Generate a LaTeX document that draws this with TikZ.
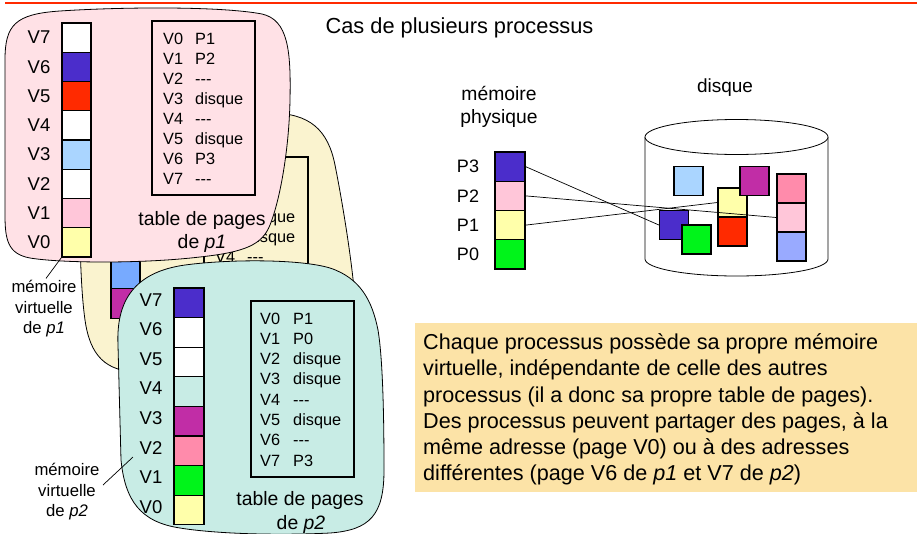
\documentclass[tikz,border=0pt]{standalone}
\usepackage{fontspec}
\setmainfont{Liberation Sans}
\definecolor{pinkbg}{HTML}{FFE1E6}
\definecolor{yellbg}{HTML}{FAF3CF}
\definecolor{tealbg}{HTML}{C8ECE5}
\definecolor{dblue}{HTML}{4B2DCB}
\definecolor{vred}{HTML}{FF2A00}
\definecolor{lblue}{HTML}{AAD5FF}
\definecolor{lpink}{HTML}{FFC6D9}
\definecolor{lyell}{HTML}{FFFFAA}
\definecolor{magen}{HTML}{C12DA6}
\definecolor{dpink}{HTML}{FF8BAB}
\definecolor{vgreen}{HTML}{00F41A}
\definecolor{peri}{HTML}{99AAFF}
\definecolor{mblue}{HTML}{77AAFF}
\definecolor{notebg}{HTML}{FCE3A7}
\definecolor{topred}{HTML}{FF2A00}
\newcommand\tdash{-{}-{}-}
\tikzset{
  blob/.style={draw=black, line width=0.8pt},
  cell/.style={draw, line width=1.2pt, minimum width=29pt, minimum height=29.25pt, inner sep=0pt},
  sq/.style={draw, line width=1.2pt, minimum width=29pt, minimum height=29pt, inner sep=0pt},
  tbox/.style={draw, line width=1.2pt, inner sep=0pt},
  vlab/.style={font=\fontsize{18.5}{21}\selectfont, inner sep=0pt},
  tt/.style={font=\fontsize{16.3}{19}\selectfont, anchor=base west, inner sep=0pt},
  capt/.style={font=\fontsize{19.4}{23}\selectfont, inner sep=0pt},
  small/.style={font=\fontsize{16.7}{20.5}\selectfont, align=center, inner sep=1pt},
  notet/.style={font=\fontsize{21.6}{26}\selectfont, anchor=base west, inner sep=0pt},
  conn/.style={draw, line width=0.7pt},
}
\begin{document}
\begin{tikzpicture}[x=1pt,y=-1pt]
\useasboundingbox (0,0) rectangle (917,533);
% top rule
\draw[topred, line width=2.5pt] (5,3) -- (917,3);
\node[font=\fontsize{21.8}{26}\selectfont, inner sep=0pt] (title) at (459.5,28) {Cas de plusieurs processus};

% ---------- yellow (hidden) process ----------
\path[blob, fill=yellbg] (80,160) .. controls (80,125) and (100,114) .. (150,113) -- (270,113)
  .. controls (310,113) and (328,130) .. (335,165)
  .. controls (342,200) and (352,260) .. (355,300)
  .. controls (358,350) and (340,372) .. (300,372) -- (140,372)
  .. controls (105,372) and (90,355) .. (85,320)
  .. controls (80,285) and (79,220) .. (80,160) -- cycle;
\node[tbox, minimum width=104pt, minimum height=183pt] (ctab) at (256,248.5) {};
\foreach \i/\t in {2/disque,3/disque,4/\tdash}{
  \node[tt] (ct\i x) at (215,{182+20.1*\i}) {V\i};
  \node[tt] (ct\i y) at (247,{182+20.1*\i}) {\t};
}
\node[cell, fill=mblue, minimum width=29pt] (cc1) at (125.5,274.5) {};
\node[cell, fill=magen, minimum width=29pt] (cc0) at (125.5,303.5) {};

% ---------- process p1 (pink) ----------
\path[blob, fill=pinkbg] (5,60) .. controls (5,25) and (15,14) .. (60,11)
  .. controls (120,7) and (220,6) .. (262,14)
  .. controls (288,20) and (291,50) .. (290,100)
  .. controls (289,150) and (280,200) .. (270,225)
  .. controls (262,245) and (245,252) .. (200,257)
  .. controls (140,264) and (60,263) .. (30,258)
  .. controls (8,254) and (5,240) .. (5,215) -- cycle;
\foreach \i/\c in {7/white,6/dblue,5/vred,4/white,3/lblue,2/white,1/lpink,0/lyell}{
  \pgfmathsetmacro\yy{23+(7-\i)*29.25+14.625}
  \node[cell, fill=\c] (ac\i) at (76.5,\yy) {};
  \node[vlab] (al\i) at (39,\yy) {V\i};
}
\node[tbox, minimum width=103pt, minimum height=174pt] (atab) at (203.5,108) {};
\foreach \i/\t in {0/P1,1/P2,2/\tdash,3/disque,4/\tdash,5/disque,6/P3,7/\tdash}{
  \node[tt] (at\i x) at (163,{44+20.1*\i}) {V\i};
  \node[tt] (at\i y) at (195,{44+20.1*\i}) {\t};
}
\node[capt] (acap1) at (202,220) {table de pages};
\node[capt] (acap2) at (202,243) {de \textit{p1}};
\node[small] (mv1) at (44,309) {mémoire\\virtuelle\\de \textit{p1}};
\draw[conn] (mv1.north) ++(2,-1) coordinate (mv1a) -- (ac0.south west);

% ---------- process p2 (teal) ----------
\path[blob, fill=tealbg] (118,345) .. controls (116,300) and (135,272) .. (185,265)
  .. controls (230,259) and (300,259) .. (330,268)
  .. controls (360,278) and (372,300) .. (378,330)
  .. controls (383,360) and (384,420) .. (384,470)
  .. controls (384,515) and (370,530) .. (330,533)
  .. controls (270,536) and (210,533) .. (180,528)
  .. controls (140,522) and (125,500) .. (121,460) -- cycle;
\foreach \i/\c in {7/dblue,6/white,5/white,4/tealbg,3/magen,2/dpink,1/vgreen,0/lyell}{
  \pgfmathsetmacro\yy{288+(7-\i)*29.6+14.8}
  \node[cell, fill=\c, minimum width=30pt, minimum height=29.6pt] (bc\i) at (189,\yy) {};
  \node[vlab] (bl\i) at (151,\yy-3) {V\i};
}
\node[tbox, minimum width=103pt, minimum height=176pt] (btab) at (302.5,389) {};
\foreach \i/\t in {0/P1,1/P0,2/disque,3/disque,4/\tdash,5/disque,6/\tdash,7/P3}{
  \node[tt] (bt\i x) at (260,{324+20.3*\i}) {V\i};
  \node[tt] (bt\i y) at (293,{324+20.3*\i}) {\t};
}
\node[capt] (bcap1) at (300,500) {table de pages};
\node[capt] (bcap2) at (301,524) {de \textit{p2}};
\node[small] (mv2) at (67,492) {mémoire\\virtuelle\\de \textit{p2}};
\coordinate (mv2a) at (103,485);
\coordinate (mv2b) at (133,457);
\draw[conn] (mv2a) -- (mv2b);

% ---------- physical memory ----------
\node[capt, align=center, font=\fontsize{19.3}{23}\selectfont] (phys) at (499,106.5) {mémoire\\physique};
\foreach \i/\c in {3/dblue,2/lpink,1/lyell,0/vgreen}{
  \pgfmathsetmacro\yy{152+(3-\i)*29.25+14.625}
  \node[cell, fill=\c, minimum width=30pt] (m\i) at (510,\yy) {};
  \node[vlab, font=\fontsize{18}{21}\selectfont] (ml\i) at (468,\yy) {P\i};
}

% ---------- disk ----------
\node[capt, font=\fontsize{19}{23}\selectfont] (disk) at (725,88) {disque};
\path[fill=white, draw=black, line width=0.8pt] (645,137) -- (645,259)
  arc[start angle=180, end angle=0, x radius=91.5, y radius=17] -- (828,137);
\draw[fill=white, line width=0.8pt] (736.5,137) ellipse[x radius=91.5, y radius=17.5];
\node[sq, fill=lblue] (dlb) at (688.5,181) {};
\node[sq, fill=lyell] (dly) at (732.5,202.5) {};
\node[sq, fill=vred] (drd) at (732.5,231.5) {};
\node[sq, fill=magen] (dmg) at (754.5,181) {};
\node[sq, fill=dblue] (ddb) at (674,225) {};
\node[sq, fill=vgreen] (dgr) at (696.5,239.5) {};
\node[sq, fill=dpink] (ddp) at (791.5,188.5) {};
\node[sq, fill=lpink] (dlp) at (791.5,217.5) {};
\node[sq, fill=peri] (dpe) at (791.5,246.5) {};
\draw[conn] (m3.east) -- (ddb.west);
\draw[conn] (m2.east) -- (dlp.west);
\draw[conn] (m1.east) -- (dly.west);

% ---------- note ----------
\node[fill=notebg, minimum width=502pt, minimum height=169pt, anchor=north west, inner sep=0pt] (note) at (415,323) {};
\node[notet] (n1) at (423,349.7) {Chaque processus possède sa propre mémoire};
\node[notet] (n2) at (423,375.9) {virtuelle, indépendante de celle des autres};
\node[notet] (n3) at (423,402.1) {processus (il a donc sa propre table de pages).};
\node[notet] (n4) at (423,428.3) {Des processus peuvent partager des pages, à la};
\node[notet] (n5) at (423,454.5) {même adresse (page V0) ou à des adresses};
\node[notet] (n6) at (423,480.7) {différentes (page V6 de \textit{p1} et V7 de \textit{p2})};
\end{tikzpicture}
\end{document}
